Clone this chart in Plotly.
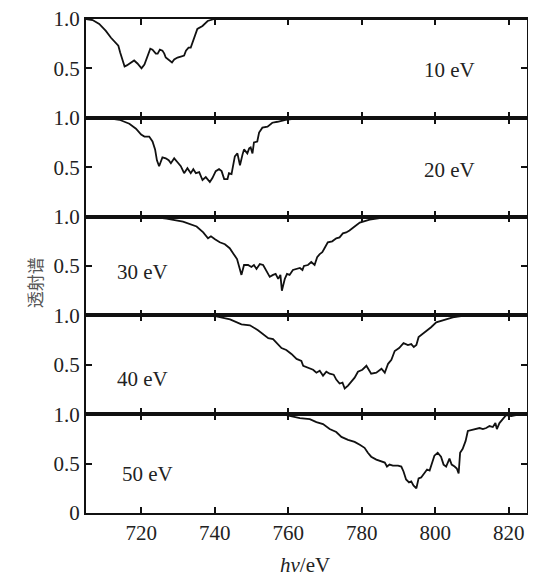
import plotly.graph_objects as go
from plotly.subplots import make_subplots

# ---- data ----
x10 = [705, 706.8, 708.6, 710.4, 711.8, 713.2, 713.8, 714.3, 715.0, 715.5, 716.1, 717.2, 718.1, 719.0,
       720.1, 720.9, 721.8, 722.5, 723.1, 724.0, 724.5, 725.1, 725.8, 726.3, 726.7, 727.6, 728.4, 729.0,
       729.9, 730.8, 731.7, 732.2, 732.9, 733.5, 734.0, 734.4, 735.3, 736.7, 738.1, 739.9, 760, 825]
y10 = [1.0, 0.99, 0.95, 0.88, 0.81, 0.76, 0.73, 0.66, 0.58, 0.52, 0.53, 0.56, 0.58, 0.55,
       0.50, 0.54, 0.63, 0.70, 0.69, 0.65, 0.65, 0.69, 0.68, 0.65, 0.61, 0.58, 0.56, 0.59,
       0.61, 0.62, 0.63, 0.68, 0.71, 0.71, 0.76, 0.81, 0.90, 0.93, 0.98, 1.0, 1.0, 1.0]

x20 = [705, 710.4, 714.1, 716.8, 718.6, 720.0, 720.9, 722.2, 723.1, 723.8, 724.3, 724.9, 725.4, 725.8,
       726.7, 727.5, 728.1, 729.0, 729.9, 730.8, 731.7, 732.6, 733.5, 734.2, 734.9, 735.8, 736.7, 737.6,
       738.7, 739.4, 740.3, 741.2, 741.9, 742.6, 743.5, 743.9, 744.6, 745.0, 745.5, 746.2, 746.9, 747.6,
       748.0, 748.9, 749.4, 749.8, 750.3, 750.7, 751.6, 752.1, 753.0, 754.4, 755.7, 757.1, 759.3, 763.8,
       768.4, 825]
y20 = [1.0, 1.0, 0.98, 0.94, 0.89, 0.83, 0.81, 0.81, 0.76, 0.68, 0.57, 0.51, 0.56, 0.60,
       0.59, 0.57, 0.54, 0.59, 0.55, 0.51, 0.44, 0.49, 0.44, 0.48, 0.44, 0.45, 0.37, 0.40,
       0.35, 0.39, 0.46, 0.48, 0.46, 0.38, 0.38, 0.44, 0.43, 0.51, 0.61, 0.64, 0.52, 0.63,
       0.68, 0.64, 0.69, 0.70, 0.64, 0.75, 0.76, 0.85, 0.90, 0.91, 0.95, 0.96, 0.98, 1.0,
       1.0, 1.0]

x30 = [705, 722.4, 726.9, 731.4, 735.1, 736.9, 738.2, 739.0, 740.1, 741.4, 742.8, 744.1, 745.2, 746.1,
       746.7, 747.3, 748.0, 749.1, 750.0, 750.7, 751.4, 752.3, 753.2, 754.1, 755.0, 755.9, 756.6, 757.3,
       757.9, 758.3, 759.1, 759.7, 760.4, 761.3, 762.2, 763.2, 763.9, 764.3, 765.4, 766.3, 767.2, 767.9,
       768.6, 769.3, 769.9, 770.8, 772.0, 773.1, 774.0, 774.9, 775.8, 776.7, 778.1, 779.5, 782.2, 785.8,
       790.3, 825]
y30 = [1.0, 1.0, 0.98, 0.95, 0.90, 0.84, 0.78, 0.80, 0.77, 0.74, 0.72, 0.68, 0.62, 0.57,
       0.49, 0.41, 0.51, 0.51, 0.49, 0.51, 0.47, 0.52, 0.51, 0.45, 0.39, 0.41, 0.42, 0.37,
       0.41, 0.25, 0.37, 0.42, 0.41, 0.46, 0.47, 0.48, 0.46, 0.50, 0.51, 0.54, 0.51, 0.59,
       0.62, 0.64, 0.68, 0.74, 0.75, 0.78, 0.79, 0.83, 0.84, 0.86, 0.90, 0.94, 0.97, 0.99,
       1.0, 1.0]

x40 = [705, 736.0, 740.5, 744.2, 747.3, 749.6, 751.8, 753.2, 754.6, 755.9, 757.3, 758.2, 759.5, 760.9,
       762.3, 763.6, 764.1, 764.8, 765.9, 766.8, 767.7, 768.6, 769.5, 770.4, 771.3, 772.4, 773.1, 774.0,
       774.8, 775.4, 776.3, 777.2, 778.1, 779.0, 780.2, 781.3, 782.0, 782.6, 784.0, 785.4, 786.3, 787.2,
       788.1, 789.0, 790.2, 791.4, 792.6, 793.5, 794.2, 794.9, 795.5, 796.2, 797.6, 798.9, 800.3, 802.1,
       804.8, 808.4, 825]
y40 = [1.0, 1.0, 0.99, 0.96, 0.91, 0.90, 0.85, 0.81, 0.77, 0.76, 0.71, 0.67, 0.65, 0.61,
       0.56, 0.54, 0.49, 0.48, 0.46, 0.45, 0.42, 0.44, 0.39, 0.43, 0.41, 0.40, 0.35, 0.31,
       0.32, 0.26, 0.29, 0.33, 0.37, 0.43, 0.45, 0.49, 0.44, 0.41, 0.42, 0.46, 0.42, 0.51,
       0.55, 0.64, 0.67, 0.72, 0.70, 0.71, 0.68, 0.70, 0.78, 0.80, 0.84, 0.88, 0.93, 0.95,
       0.98, 1.0, 1.0]

x50 = [705, 749.6, 755.0, 759.5, 763.2, 765.9, 767.7, 769.5, 771.3, 773.1, 774.5, 776.3, 778.1, 779.5,
       780.8, 781.7, 782.6, 784.0, 785.3, 786.3, 786.9, 787.6, 788.5, 789.9, 790.8, 791.4, 792.1, 792.9,
       793.5, 794.1, 794.9, 795.5, 796.2, 797.1, 797.8, 798.5, 799.2, 799.8, 800.7, 801.6, 802.3, 803.0,
       803.9, 804.5, 805.3, 805.9, 806.4, 806.8, 807.5, 808.3, 808.9, 809.8, 811.2, 812.1, 813.0, 813.9,
       814.8, 815.7, 816.4, 816.8, 817.5, 818.4, 819.3, 820.7, 822.0, 825]
y50 = [1.0, 1.0, 1.0, 0.99, 0.96, 0.95, 0.92, 0.90, 0.85, 0.82, 0.77, 0.74, 0.72, 0.69,
       0.66, 0.61, 0.57, 0.54, 0.52, 0.51, 0.47, 0.49, 0.48, 0.48, 0.47, 0.42, 0.34, 0.31,
       0.32, 0.28, 0.25, 0.35, 0.36, 0.41, 0.44, 0.43, 0.52, 0.58, 0.61, 0.57, 0.49, 0.47,
       0.55, 0.49, 0.47, 0.45, 0.40, 0.61, 0.65, 0.73, 0.83, 0.84, 0.85, 0.86, 0.85, 0.86,
       0.88, 0.87, 0.91, 0.85, 0.91, 0.95, 0.99, 0.98, 0.99, 1.0]

series = [(x10, y10), (x20, y20), (x30, y30), (x40, y40), (x50, y50)]
labels = ["10 eV", "20 eV", "30 eV", "40 eV", "50 eV"]
label_pos = [(803.9, 0.48), (803.9, 0.47), (720.5, 0.44), (720.5, 0.36), (721.6, 0.39)]
x_ticks = [720, 740, 760, 780, 800, 820]

FONT = "Liberation Serif"
fig = make_subplots(rows=5, cols=1, shared_xaxes=True, vertical_spacing=0)

for i, (xs, ys) in enumerate(series):
    r = i + 1
    fig.add_trace(go.Scatter(x=xs, y=ys, mode="lines",
                             line=dict(color="#111111", width=1.8),
                             showlegend=False), row=r, col=1)
    last = (r == 5)
    fig.update_xaxes(range=[705, 825], tickvals=x_ticks,
                     ticktext=[str(t) for t in x_ticks],
                     showticklabels=last, ticks="inside", ticklen=6, tickwidth=1.5,
                     tickcolor="#111", showline=True, linewidth=1.5, linecolor="#111",
                     mirror="ticks", showgrid=False, zeroline=False, automargin=False,
                     ticklabeloverflow="allow",
                     tickfont=dict(family=FONT, size=21, color="#222"),
                     row=r, col=1)
    if last:
        tv, tt = [0, 0.5, 1.0], ["0", "0.5", "1.0"]
    else:
        tv, tt = [0.5, 1.0], ["0.5", "1.0"]
    fig.update_yaxes(range=[0, 1], tickvals=tv, ticktext=tt,
                     ticks="inside", ticklen=6, tickwidth=1.5, tickcolor="#111",
                     showline=True, linewidth=2, linecolor="#111",
                     mirror="ticks", showgrid=False, zeroline=False, automargin=False,
                     ticklabeloverflow="allow",
                     tickfont=dict(family=FONT, size=21, color="#222"),
                     row=r, col=1)
    xa = "x" if r == 1 else f"x{r}"
    ya = "y" if r == 1 else f"y{r}"
    fig.add_annotation(x=label_pos[i][0], y=label_pos[i][1], xref=xa, yref=ya,
                       text=labels[i], showarrow=False,
                       font=dict(family=FONT, size=21, color="#222"))

fig.add_annotation(x=0, y=0.466, xref="paper", yref="paper", text="透射谱",
                   xshift=-66, textangle=-90, showarrow=False,
                   font=dict(family="Noto Sans CJK SC", size=17, color="#555"))
fig.add_annotation(x=0.496, y=0, xref="paper", yref="paper", yanchor="middle",
                   yshift=-52, text="<i>hv</i>/eV", showarrow=False,
                   font=dict(family=FONT, size=21, color="#222"))

# page body adds an 8px offset, so the figure is sized to fit inside the window
fig.update_layout(width=528, height=568,
                  margin=dict(l=78, r=9, t=11, b=63),
                  paper_bgcolor="white", plot_bgcolor="white")

fig.write_html("out.html")
